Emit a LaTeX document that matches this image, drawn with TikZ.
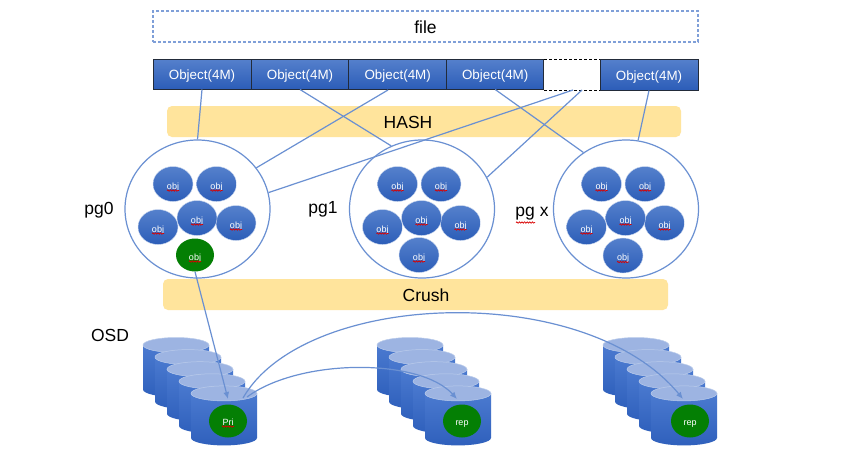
\documentclass[tikz,border=0pt]{standalone}
\usepackage{fontspec}
\setmainfont{Liberation Sans}
\usetikzlibrary{shapes.geometric,arrows.meta,decorations.pathmorphing,calc}
\definecolor{linkblue}{HTML}{6A90D2}
\definecolor{filedash}{HTML}{7F9FD8}
\definecolor{boxedge}{HTML}{222B3A}
\definecolor{bandyellow}{HTML}{FFE49C}
\definecolor{disktop}{HTML}{9DB4E2}
\definecolor{bluehi}{HTML}{5580CC}
\definecolor{bluelo}{HTML}{2C5DB8}
\definecolor{cylhi}{HTML}{4B7AD0}
\definecolor{cyllo}{HTML}{2F60BC}
\definecolor{okgreen}{HTML}{047F04}
\tikzset{
  objbox/.style={draw=boxedge,line width=1pt,top color=bluehi,bottom color=bluelo,text=white,
    minimum height=30pt,inner sep=0pt,font=\fontsize{13.4}{15}\selectfont},
  band/.style={fill=bandyellow,rounded corners=5pt,minimum height=31pt,inner sep=0pt,font=\fontsize{17.5}{20}\selectfont},
  pgring/.style={ellipse,draw=linkblue,line width=1.2pt,fill=white,minimum width=145pt,minimum height=138pt,inner sep=0pt},
  smallobj/.style={ellipse,draw=white!70!bluehi,line width=.4pt,top color=bluehi,bottom color=bluelo,text=white,
    minimum width=40pt,minimum height=35pt,inner sep=0pt,font=\fontsize{9}{10}\selectfont},
  greenobj/.style={ellipse,fill=okgreen,text=white,minimum width=38pt,minimum height=33pt,inner sep=0pt,font=\fontsize{9}{10}\selectfont},
  biglabel/.style={inner sep=0pt,font=\fontsize{17.5}{20}\selectfont},
  link/.style={draw=linkblue,line width=1.2pt},
  linktip/.style={link,-{Latex[length=7pt,width=6pt]}},
  squig/.style={draw=red!85!black,line width=.7pt,decorate,decoration={snake,segment length=2.6pt,amplitude=.7pt}}
}
\newcommand{\low}[2]{\raisebox{-#1pt}[0pt][0pt]{#2}}
\newcommand{\osdcyl}[2]{%
  \shade[top color=cylhi,bottom color=cyllo]
    (#1-33,#2) -- (#1-33,#2+44.5) arc[start angle=180,end angle=0,x radius=33,y radius=7.5] -- (#1+33,#2) -- cycle;
  \draw[white!60!bluehi,line width=.5pt,fill=disktop] (#1,#2) ellipse[x radius=33,y radius=7.5];
}
\newcommand{\osdstack}[1]{%
  \foreach \k in {0,1,2,3,4} {\osdcyl{#1+12*\k}{345+12.1*\k}}
}
\newcommand{\squigunder}[1]{\draw[squig] ($(#1.center)+(-6,6.5)$) -- ($(#1.center)+(6,6.5)$);}
\begin{document}
\begin{tikzpicture}[x=1pt,y=-1pt]
\useasboundingbox (0,0) rectangle (865,459);
\fill[white] (0,0) rectangle (865,459);

% file
\node[draw=filedash,dash pattern=on 3pt off 2pt,line width=1.1pt,minimum width=545pt,minimum height=31pt,inner sep=0pt,
  font=\fontsize{17.5}{20}\selectfont] (file) at (425.5,26.5) {\low{7}{file}};

% bands
\node[band,minimum width=514pt] (hash) at (424,121.5) {};
\node[inner sep=0pt,font=\fontsize{17.5}{20}\selectfont] (hashlabel) at (408,122) {HASH};
\node[band,minimum width=505pt] (crush) at (415.5,294.5) {};
\node[inner sep=0pt,font=\fontsize{17.5}{20}\selectfont] (crushlabel) at (426,295) {Crush};

% objects
\node[objbox,minimum width=98pt] (obj1) at (202,74) {\low{5.5}{Object(4M)}};
\node[objbox,minimum width=98pt] (obj2) at (300,74) {\low{5.5}{Object(4M)}};
\node[objbox,minimum width=97.5pt] (obj3) at (397.7,74) {\low{5.5}{Object(4M)}};
\node[objbox,minimum width=97.5pt] (obj4) at (495.2,74) {\low{5.5}{Object(4M)}};
\node[objbox,minimum width=98pt,minimum height=31pt] (obj5) at (649,74.5) {\low{5.5}{Object(4M)}};
\coordinate (gapNW) at (544,59.5);
\coordinate (gapNE) at (600,59.5);
\coordinate (gapSW) at (544,90);
\coordinate (gapSE) at (600,90);
\draw[black,dash pattern=on 3pt off 2pt,line width=.9pt] (gapNW) -- (gapNE) (gapSW) -- (gapSE);

% pg rings
\node[pgring] (pg0) at (197.5,209) {};
\node[pgring] (pg1) at (422,209) {};
\node[pgring] (pgx) at (626,209) {};

\foreach \n/\cx in {a/0,b/1,c/2} {
  \ifcase\cx \def\ox{197.5}\or \def\ox{422}\or \def\ox{626}\fi
  \node[smallobj] (\n1) at (\ox-24.5,184) {\low{5}{obj}};
  \node[smallobj] (\n2) at (\ox+19,184) {\low{5}{obj}};
  \node[smallobj] (\n3) at (\ox-39.5,227) {\low{5}{obj}};
  \node[smallobj] (\n5) at (\ox+38.5,223) {\low{5}{obj}};
  \node[smallobj] (\n4) at (\ox-.5,218) {\low{5}{obj}};
  \squigunder{\n1}\squigunder{\n2}\squigunder{\n3}\squigunder{\n4}\squigunder{\n5}
}
\node[greenobj] (a6) at (195,255) {\low{5}{obj}};
\node[smallobj] (b6) at (419,255) {\low{5}{obj}};
\node[smallobj] (c6) at (623,255.5) {\low{5}{obj}};
\squigunder{a6}\squigunder{b6}\squigunder{c6}

% labels
\node[biglabel] (pg0label) at (99,210) {pg0};
\node[biglabel] (pg1label) at (323,209) {pg1};
\node[biglabel] (pgxlabel) at (532,214) {pg x};
\draw[squig] (516,222.5) -- (535,222.5);
\node[biglabel] (osdlabel) at (110,335) {OSD};

% OSD stacks
\osdstack{176}
\osdstack{410}
\osdstack{636}
\node[greenobj] (pri) at (228,421) {\low{4}{Pri}};
\node[greenobj] (rep1) at (462,421) {\low{4}{rep}};
\node[greenobj] (rep2) at (690,421) {\low{4}{rep}};
\draw[squig] ($(pri.center)+(-6,5.5)$) -- ($(pri.center)+(6,5.5)$);
\coordinate (priin) at (228,399);
\coordinate (priout1) at (243,398);
\coordinate (priout2) at (247,397);
\coordinate (rep1in) at (457,399);
\coordinate (rep2in) at (683,399);

% connectors
\coordinate (obj3out) at (388,90);
\coordinate (gapout1) at (573,90);
\coordinate (gapout2) at (582,90);
\draw[link] (obj1.south) -- (pg0.north);
\draw[link] (obj2.south) -- (pg1.116);
\draw[link] (obj3out) -- (pg0.35);
\draw[link] (gapout1) -- (pg0.13);
\draw[link] (gapout2) -- (pg1.26);
\draw[link] (obj4.south) -- (pgx.127);
\draw[link] (obj5.south) -- (pgx.80);
\draw[linktip] (a6.south) -- (priin);
\draw[linktip] (priout2) .. controls (300,358) and (420,358) .. (rep1in);
\draw[linktip] (priout1) .. controls (305,290) and (585,280) .. (rep2in);
\end{tikzpicture}
\end{document}
